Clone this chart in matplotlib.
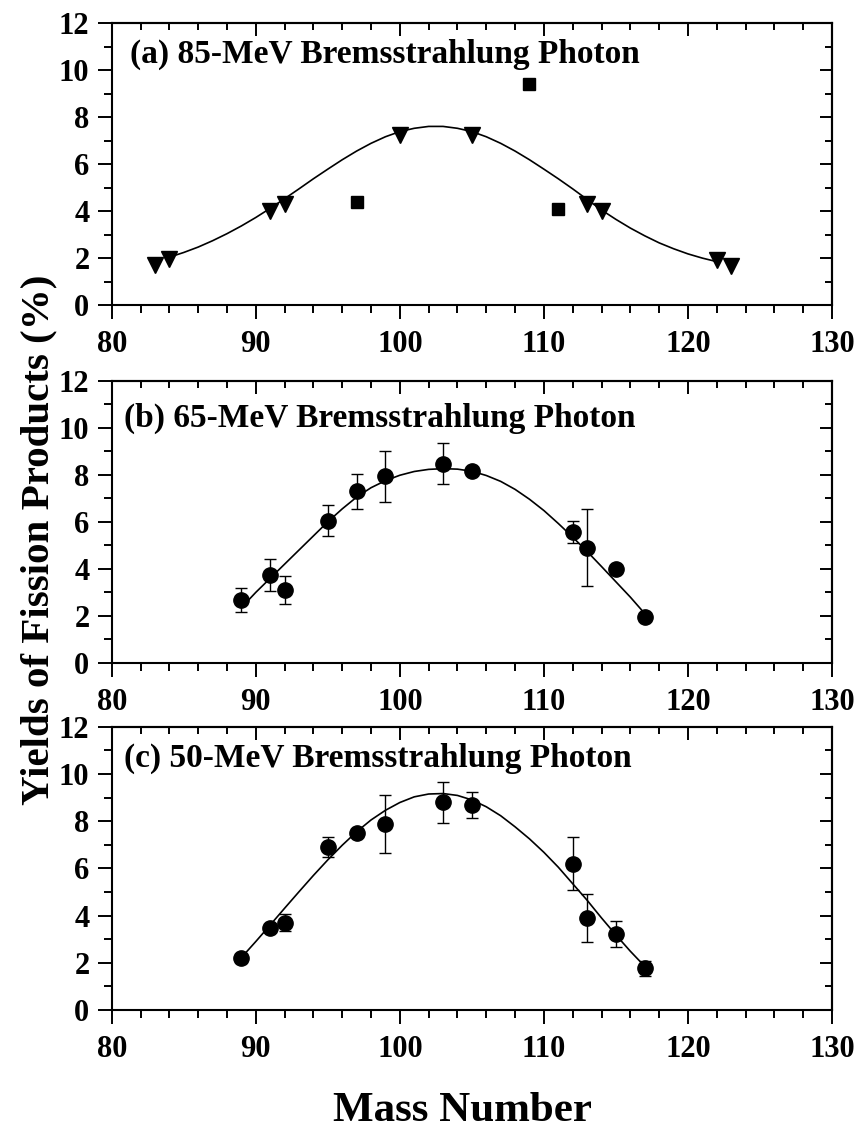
import matplotlib
matplotlib.use("Agg")
import matplotlib.pyplot as plt
from matplotlib.ticker import MultipleLocator

plt.rcParams['font.family'] = ['Liberation Serif', 'DejaVu Serif']
plt.rcParams['font.weight'] = 'bold'

# (a) 85-MeV
a_tri_mass = [83, 84, 91, 92, 100, 105, 113, 114, 122, 123]
a_tri_yield = [1.7, 1.95, 4.0, 4.3, 7.25, 7.25, 4.3, 4.0, 1.9, 1.65]
a_sq_mass = [97, 109, 111]
a_sq_yield = [4.4, 9.4, 4.1]
a_fit_mass = list(range(84, 123))
a_fit_yield = [2.04, 2.24, 2.47, 2.74, 3.04, 3.37, 3.73, 4.12, 4.53, 4.95,
               5.38, 5.79, 6.19, 6.56, 6.89, 7.17, 7.39, 7.53, 7.61, 7.61,
               7.53, 7.39, 7.17, 6.89, 6.56, 6.19, 5.79, 5.38, 4.95, 4.50,
               4.05, 3.65, 3.28, 2.95, 2.65, 2.40, 2.18, 2.00, 1.85]

# (b) 65-MeV
b_mass = [89, 91, 92, 95, 97, 99, 103, 105, 112, 113, 115, 117]
b_yield = [2.67, 3.74, 3.1, 6.04, 7.29, 7.93, 8.47, 8.14, 5.57, 4.9, 4.0, 1.96]
b_err = [0.5, 0.7, 0.6, 0.66, 0.75, 1.1, 0.86, 0.0, 0.48, 1.63, 0.0, 0.0]
b_fit_mass = list(range(89, 118))
b_fit_yield = [2.35, 3.0, 3.6, 4.2, 4.8, 5.4, 6.0, 6.55, 7.05, 7.45,
               7.75, 7.98, 8.14, 8.23, 8.26, 8.24, 8.15, 7.97, 7.72, 7.38,
               6.96, 6.48, 5.93, 5.35, 4.74, 4.1, 3.45, 2.8, 2.1]

# (c) 50-MeV
c_mass = [89, 91, 92, 95, 97, 99, 103, 105, 112, 113, 115, 117]
c_yield = [2.19, 3.49, 3.7, 6.92, 7.51, 7.88, 8.8, 8.69, 6.19, 3.88, 3.22, 1.77]
c_err = [0.2, 0.1, 0.36, 0.42, 0.15, 1.22, 0.88, 0.56, 1.12, 1.02, 0.54, 0.32]
c_fit_mass = list(range(89, 118))
c_fit_yield = [2.22, 2.90, 3.60, 4.31, 5.01, 5.70, 6.36, 6.98, 7.55, 8.05,
               8.46, 8.79, 9.03, 9.15, 9.17, 9.09, 8.90, 8.61, 8.23, 7.76,
               7.25, 6.68, 6.05, 5.35, 4.65, 3.90, 3.18, 2.49, 1.85]

titles = ["(a) 85-MeV Bremsstrahlung Photon",
          "(b) 65-MeV Bremsstrahlung Photon",
          "(c) 50-MeV Bremsstrahlung Photon"]
x_ticks = [80, 90, 100, 110, 120, 130]
y_ticks = [0, 2, 4, 6, 8, 10, 12]

fig = plt.figure(figsize=(8.62, 11.29), dpi=100)
left, width = 0.1296, 0.8356
boxes = [(0.7298, 0.2495), (0.4128, 0.2500), (0.1054, 0.2509)]
title_pos = [(0.026, 0.859), (0.017, 0.836), (0.017, 0.857)]

axes = []
for i, (bottom, height) in enumerate(boxes):
    ax = fig.add_axes([left, bottom, width, height])
    ax.set_xlim(80, 130)
    ax.set_ylim(0, 12)
    ax.set_xticks(x_ticks)
    ax.set_yticks(y_ticks)
    ax.xaxis.set_minor_locator(MultipleLocator(2))
    ax.yaxis.set_minor_locator(MultipleLocator(1))
    ax.tick_params(axis='both', which='both', direction='out', top=False, right=False,
                   width=1.4, labelsize=22)
    ax.tick_params(axis='both', which='major', length=10)
    ax.tick_params(axis='both', which='minor', length=5.5)
    ax.tick_params(axis='x', pad=8)
    ax.tick_params(axis='y', pad=6)
    for sp in ax.spines.values():
        sp.set_linewidth(1.5)
    for lab in ax.get_xticklabels() + ax.get_yticklabels():
        lab.set_fontweight('bold')

    top = ax.secondary_xaxis('top')
    top.set_xticks(x_ticks)
    top.xaxis.set_minor_locator(MultipleLocator(2))
    top.tick_params(axis='x', which='both', direction='in', labeltop=False, width=1.4)
    top.tick_params(axis='x', which='major', length=9)
    top.tick_params(axis='x', which='minor', length=5)
    top.spines['top'].set_linewidth(1.5)

    right = ax.secondary_yaxis('right')
    right.set_yticks(y_ticks)
    right.yaxis.set_minor_locator(MultipleLocator(1))
    right.tick_params(axis='y', which='both', direction='in', labelright=False, width=1.4)
    right.tick_params(axis='y', which='major', length=9)
    right.tick_params(axis='y', which='minor', length=5)
    right.spines['right'].set_linewidth(1.5)

    tx, ty = title_pos[i]
    ax.text(tx, ty, titles[i], transform=ax.transAxes, fontsize=24,
            fontweight='bold', ha='left', va='baseline')
    axes.append(ax)

ax_a, ax_b, ax_c = axes

ax_a.plot(a_fit_mass, a_fit_yield, color='black', lw=1.2, zorder=2)
ax_a.plot(a_tri_mass, a_tri_yield, linestyle='none', marker='v', ms=12,
          color='black', zorder=3)
ax_a.plot(a_sq_mass, a_sq_yield, linestyle='none', marker='s', ms=9,
          color='black', zorder=3)

ax_b.plot(b_fit_mass, b_fit_yield, color='black', lw=1.2, zorder=2)
ax_b.errorbar(b_mass, b_yield, yerr=b_err, fmt='o', color='black', ms=11,
              elinewidth=1, capsize=4, capthick=1, zorder=3)

ax_c.plot(c_fit_mass, c_fit_yield, color='black', lw=1.2, zorder=2)
ax_c.errorbar(c_mass, c_yield, yerr=c_err, fmt='o', color='black', ms=11,
              elinewidth=1, capsize=4, capthick=1, zorder=3)

fig.text(0.045, 0.522, "Yields of Fission Products (%)", rotation=90,
         fontsize=29.5, fontweight='bold', ha='center', va='center')
fig.text(0.536, 0.007, "Mass Number", fontsize=31, fontweight='bold',
         ha='center', va='baseline')

fig.savefig("out.png", dpi=100)
